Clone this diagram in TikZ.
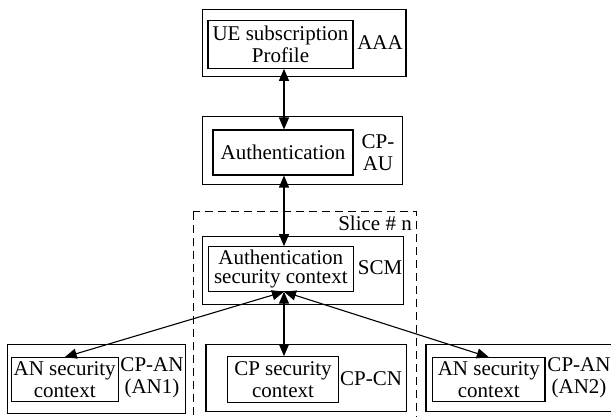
\documentclass[tikz,border=0pt]{standalone}
\usepackage{fontspec}
\setmainfont{Liberation Serif}
\usetikzlibrary{arrows.meta}

\tikzset{
  outerbox/.style={draw, line width=1.1pt, minimum width=#1, minimum height=67.5pt, inner sep=0pt},
  innerbox/.style={draw, line width=1.1pt, align=center, inner sep=0pt, minimum width=#1, minimum height=45pt},
  tag/.style={align=center, inner sep=0pt},
  link/.style={{Triangle[length=12pt,width=10pt]}-{Triangle[length=12pt,width=10pt]}, line width=1.1pt},
  slicebox/.style={line width=1.1pt, dash pattern=on 8pt off 5pt}
}

\begin{document}
\begin{tikzpicture}[x=1pt, y=-1pt, font=\fontsize{21}{22}\selectfont]
\useasboundingbox (0,0) rectangle (611,417);
\clip (0,0) rectangle (611,417);

\draw[slicebox] (193.3,211.7) rectangle (416.7,440);
\node[tag, anchor=east] (slice) at (412,223) {Slice \# n};

\node[outerbox=203.3pt, minimum height=66.7pt] (aaa) at (304.3,43.3) {};
\node[innerbox=145pt, minimum height=47.6pt] (ue) at (280.5,44.5) {UE subscription\\Profile};
\node[tag] (aaalbl) at (380,43) {AAA};

\node[outerbox=200pt] (cpau) at (302.7,150.5) {};
\node[innerbox=140pt] (auth) at (283,152.5) {Authentication};
\node[tag] (cpaulbl) at (378,153) {CP-\\AU};

\node[outerbox=200.6pt] (scm) at (303,270.5) {};
\node[innerbox=145pt] (asc) at (280.8,269.2) {Authentication\\[-3pt]security context};
\node[tag] (scmlbl) at (380,268) {SCM};
\coordinate (hub) at (284,291.7);

\node[outerbox=177.7pt, minimum height=69pt] (cpan1) at (96.2,378.8) {};
\node[innerbox=107.3pt, minimum height=44pt] (anl) at (64.7,379.7) {AN security\\context};
\node[tag] (cpan1lbl) at (152,378) {CP-AN\\(AN1)};

\node[outerbox=200.7pt] (cpcn) at (306.3,377.8) {};
\node[innerbox=110.6pt, minimum height=45.6pt] (cpsc) at (283,379.5) {CP security\\context};
\node[tag] (cpcnlbl) at (371,379) {CP-CN};

\node[outerbox=194pt, minimum height=67.4pt] (cpan2) at (523,378) {};
\node[innerbox=112.3pt, minimum height=44pt] (anr) at (488.8,379.7) {AN security\\context};
\node[tag] (cpan2lbl) at (579,378) {CP-AN\\(AN2)};

\draw[link] (ue.south -| hub) -- (auth.north -| hub);
\draw[link] (auth.south -| hub) -- (asc.north -| hub);
\draw[link] (hub) -- (anl.north);
\draw[link] (hub) -- (cpsc.north -| hub);
\draw[link] (hub) -- (anr.north);
\end{tikzpicture}
\end{document}
